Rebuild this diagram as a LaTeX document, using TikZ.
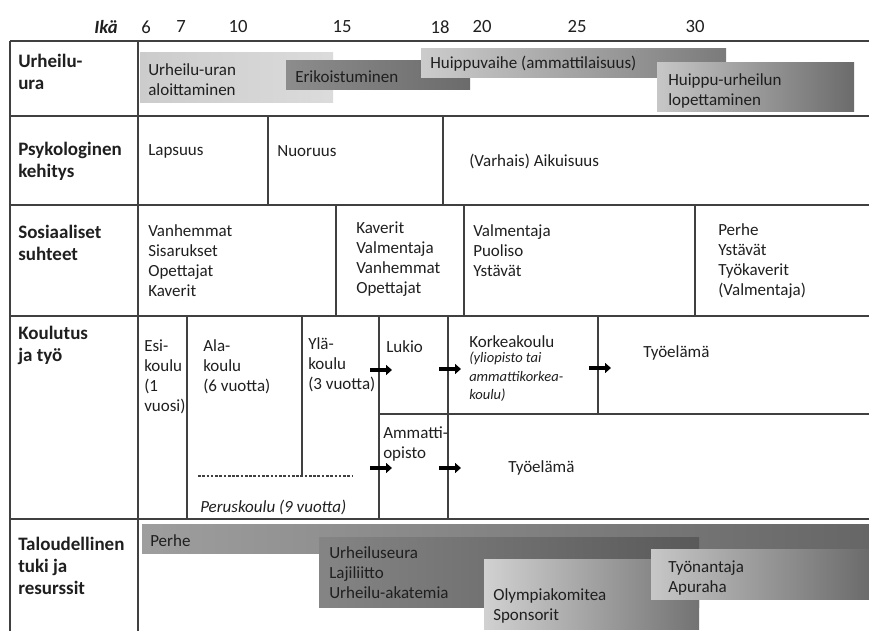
\documentclass[tikz,border=0pt]{standalone}
\usepackage{fontspec}
\setmainfont{Carlito}
\usetikzlibrary{arrows.meta}

\definecolor{viiva}{gray}{0.25}
\definecolor{teksti}{gray}{0.12}

\begin{document}
\begin{tikzpicture}[x=0.75pt,y=-0.75pt,
	lbl/.style={anchor=west,align=left,inner sep=0pt,text=teksti,font=\fontsize{14.25}{16.5}\selectfont\bfseries},
	txt/.style={anchor=west,align=left,inner sep=0pt,text=teksti,font=\fontsize{12.75}{15}\selectfont},
	pieni/.style={anchor=west,align=left,inner sep=0pt,text=teksti,font=\fontsize{10.9}{13.9}\selectfont\itshape},
	ika/.style={inner sep=0pt,text=teksti,font=\fontsize{14}{16}\selectfont},
	ruudukko/.style={line width=1.2pt,draw=viiva},
	nuoli/.style={line width=2.4pt,-{Triangle[length=4.5pt,width=7.5pt]}}]%aikajana

	\useasboundingbox (0,0) rectangle (869,631);

	%palkit, urheilu-ura
	\shade [left color=black!20, right color=black!14] (140,53) rectangle (333,103);
	\shade [left color=black!45, right color=black!58] (286,61) rectangle (470,90);
	\shade [left color=black!20, right color=black!52] (421,49) rectangle (726,78);
	\shade [left color=black!22, right color=black!58] (657,63) rectangle (854,112);

	%palkit, taloudellinen tuki
	\shade [left color=black!38, right color=black!60] (142,524) rectangle (869,553);
	\shade [left color=black!48, right color=black!65] (319,537) rectangle (699,607);
	\shade [left color=black!18, right color=black!55] (484,559) rectangle (699,629);
	\shade [left color=black!22, right color=black!58] (651,549) rectangle (869,599);

	%taulukon viivat
	\foreach \y in {41,116,205,316,519}
	\draw [ruudukko] (10,\y) -- (869,\y);
	\draw [ruudukko] (10,41) -- (10,631);
	\draw [ruudukko] (138,41) -- (138,631);
	\draw [ruudukko] (268,116) -- (268,205);%nuoruus
	\draw [ruudukko] (443,116) -- (443,205);%aikuisuus
	\foreach \x in {336,464,695}
	\draw [ruudukko] (\x,205) -- (\x,316);%sosiaaliset suhteet
	\foreach \x in {187,379,448}
	\draw [ruudukko] (\x,316) -- (\x,519);%koulutus
	\draw [ruudukko] (302,316) -- (302,476);
	\draw [ruudukko] (598,316) -- (598,414);
	\draw [ruudukko] (379,414) -- (869,414);
	\draw [viiva, line width=0.8pt, dash pattern=on 2pt off 1.2pt] (198,476) -- (353,476);%peruskoulu

	%nuolet
	\foreach \x/\y in {379/370,448/369,598/368,379/468,448/468}
	\draw [nuoli] (\x-9,\y) -- (\x+13,\y);

	%ikä
	\node [ika, anchor=east, font=\fontsize{14}{16}\selectfont\bfseries\itshape] (ikä) at (118,27) {Ikä};
	\foreach \a/\x in {6/146,7/181,10/238,15/342,18/440,20/482,25/577,30/695}
	\node [ika] (ika\a) at (\x,27) {\a};

	%rivien otsikot
	\node [lbl] (ura) at (18,72) {Urheilu-\\ura};
	\node [lbl] (psyk) at (18,161) {Psykologinen\\kehitys};
	\node [lbl] (sos) at (18,243) {Sosiaaliset\\suhteet};
	\node [lbl] (koul) at (18,345) {Koulutus\\ja työ};
	\node [lbl] (talous) at (18,566) {Taloudellinen\\tuki ja\\resurssit};

	%urheilu-ura
	\node [txt] (aloitus) at (148,80) {Urheilu-uran\\aloittaminen};
	\node [txt] (erik) at (295,77) {Erikoistuminen};
	\node [txt] (huippu) at (430,64) {Huippuvaihe (ammattilaisuus)};
	\node [txt] (lopetus) at (668,91) {Huippu-urheilun\\lopettaminen};

	%psykologinen kehitys
	\node [txt] (lapsuus) at (148,151) {Lapsuus};
	\node [txt] (nuoruus) at (277,151) {Nuoruus};
	\node [txt] (aikuisuus) at (469,161) {(Varhais) Aikuisuus};

	%sosiaaliset suhteet
	\node [txt] (sos1) at (148,261) {Vanhemmat\\Sisarukset\\Opettajat\\Kaverit};
	\node [txt] (sos2) at (356,259) {Kaverit\\Valmentaja\\Vanhemmat\\Opettajat};
	\node [txt] (sos3) at (473,251) {Valmentaja\\Puoliso\\Ystävät};
	\node [txt] (sos4) at (718,261) {Perhe\\Ystävät\\Työkaverit\\(Valmentaja)};

	%koulutus ja työ
	\node [txt] (esi) at (144,377) {Esi-\\koulu\\(1\\vuosi)};
	\node [txt] (ala) at (203,367) {Ala-\\koulu\\(6 vuotta)};
	\node [txt] (yla) at (308,365) {Ylä-\\koulu\\(3 vuotta)};
	\node [txt] (lukio) at (386,347) {Lukio};
	\node [txt] (korkea) at (469,342) {Korkeakoulu};
	\node [pieni] (yliopisto) at (469,377) {(yliopisto tai\\ammattikorkea-\\koulu)};
	\node [txt] (tyo1) at (643,353) {Työelämä};
	\node [txt] (ammatti) at (383,444) {Ammatti-\\opisto};
	\node [txt] (tyo2) at (508,468) {Työelämä};
	\node [txt, font=\fontsize{12.75}{15}\selectfont\itshape] (perus) at (200,507) {Peruskoulu (9 vuotta)};

	%taloudellinen tuki
	\node [txt] (perhe) at (150,541) {Perhe};
	\node [txt] (seura) at (329,573) {Urheiluseura\\Lajiliitto\\Urheilu-akatemia};
	\node [txt] (olymp) at (493,606) {Olympiakomitea\\Sponsorit};
	\node [txt] (tyonantaja) at (668,578) {Työnantaja\\Apuraha};
\end{tikzpicture}
\end{document}
